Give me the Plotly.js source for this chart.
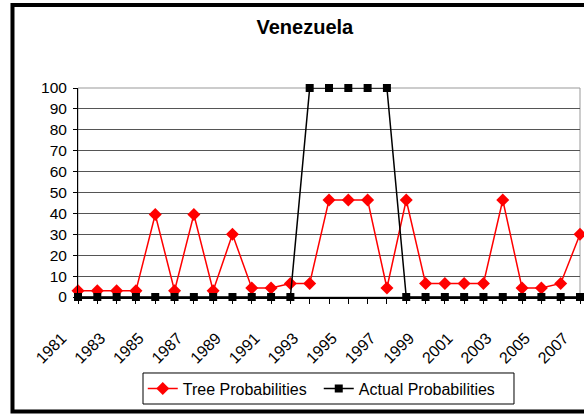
<!DOCTYPE html>
<html>
<head>
<meta charset="utf-8">
<script src="https://cdn.plot.ly/plotly-3.0.1.min.js"></script>
<style>
  html, body { margin: 0; padding: 0; background: #fff; }
  #chart { width: 584px; height: 414px; }
</style>
</head>
<body>
<div id="chart"></div>
<script>
// Yearly probabilities for Venezuela, 1981-2007
const years = [1981, 1982, 1983, 1984, 1985, 1986, 1987, 1988, 1989, 1990,
               1991, 1992, 1993, 1994, 1995, 1996, 1997, 1998, 1999, 2000,
               2001, 2002, 2003, 2004, 2005, 2006, 2007];
const treeProb = [3, 3, 3, 3, 39.5, 3, 39.5, 3, 30, 4.3,
                  4.3, 6.5, 6.5, 46.4, 46.4, 46.4, 4.3, 46.4, 6.5, 6.5,
                  6.5, 6.5, 46.4, 4.3, 4.3, 6.5, 30];
const actualProb = [0, 0, 0, 0, 0, 0, 0, 0, 0, 0,
                    0, 0, 100, 100, 100, 100, 100, 0, 0, 0,
                    0, 0, 0, 0, 0, 0, 0];
const yearLabels = years.filter((y, i) => i % 2 === 0);

const FONT = '"Liberation Sans", Arial, sans-serif';

const traces = [
  {
    x: years, y: treeProb, name: 'Tree Probabilities',
    type: 'scatter', mode: 'lines+markers', cliponaxis: false,
    line: { color: '#ff0000', width: 1.5 },
    marker: { symbol: 'diamond', size: 10, color: '#ff0000' }
  },
  {
    x: years, y: actualProb, name: 'Actual Probabilities',
    type: 'scatter', mode: 'lines+markers', cliponaxis: false,
    line: { color: '#000000', width: 1.5 },
    marker: { symbol: 'square', size: 8, color: '#000000' }
  }
];

const layout = {
  width: 584, height: 414,
  margin: { l: 78, r: 4, t: 88, b: 117, autoexpand: false },
  paper_bgcolor: '#ffffff', plot_bgcolor: '#ffffff',
  font: { family: FONT, size: 15, color: '#000' },
  showlegend: true,
  title: {
    text: '<b>Venezuela</b>',
    font: { family: FONT, size: 20, color: '#000' },
    x: 0.522, xanchor: 'center', xref: 'container',
    y: 0.935, yanchor: 'middle', yref: 'container'
  },
  xaxis: {
    range: [1981, 2007], automargin: false,
    tickvals: yearLabels, ticktext: yearLabels.map(String),
    tickangle: -45, ticks: 'outside', ticklen: 5, tickcolor: '#000',
    ticklabeloverflow: 'allow',
    ticklabelstandoff: 19, ticklabelshift: -16,
    minor: { tickvals: years, ticks: 'outside', ticklen: 5, tickcolor: '#000', showgrid: false },
    showline: true, linecolor: '#000', linewidth: 1.5,
    showgrid: false, zeroline: false,
    tickfont: { family: FONT, size: 16, color: '#000' }
  },
  yaxis: {
    range: [0, 100], dtick: 10, tick0: 0, automargin: false,
    ticks: 'outside', ticklen: 4, tickcolor: '#000',
    ticklabelstandoff: 3,
    showline: true, linecolor: '#000', linewidth: 1,
    showgrid: true, gridcolor: '#555', gridwidth: 1,
    zeroline: false,
    tickfont: { family: FONT, size: 15.5, color: '#000' }
  },
  legend: {
    orientation: 'h',
    x: 0.129, xanchor: 'left', y: -0.438, yanchor: 'middle',
    borderwidth: 0, bgcolor: 'rgba(0,0,0,0)',
    font: { family: FONT, size: 16, color: '#000' },
    entrywidth: 131, entrywidthmode: 'pixels',
    itemwidth: 30
  },
  shapes: [
    // grey frame of the plotting area
    { type: 'rect', xref: 'paper', yref: 'paper', x0: 0, x1: 1, y0: 0, y1: 1,
      line: { color: '#999', width: 1 }, layer: 'below' },
    // legend frame
    { type: 'rect', xref: 'paper', yref: 'paper',
      x0: 0.1295, x1: 0.8685, y0: -0.512, y1: -0.3636,
      line: { color: '#000', width: 1 }, layer: 'below' },
    // outer chart border
    { type: 'rect', xref: 'paper', yref: 'paper',
      x0: -0.1305, x1: 1.06, y0: -0.548, y1: 1.397,
      line: { color: '#000', width: 4 } }
  ]
};

Plotly.newPlot('chart', traces, layout, { displayModeBar: false, staticPlot: true });
</script>
</body>
</html>
